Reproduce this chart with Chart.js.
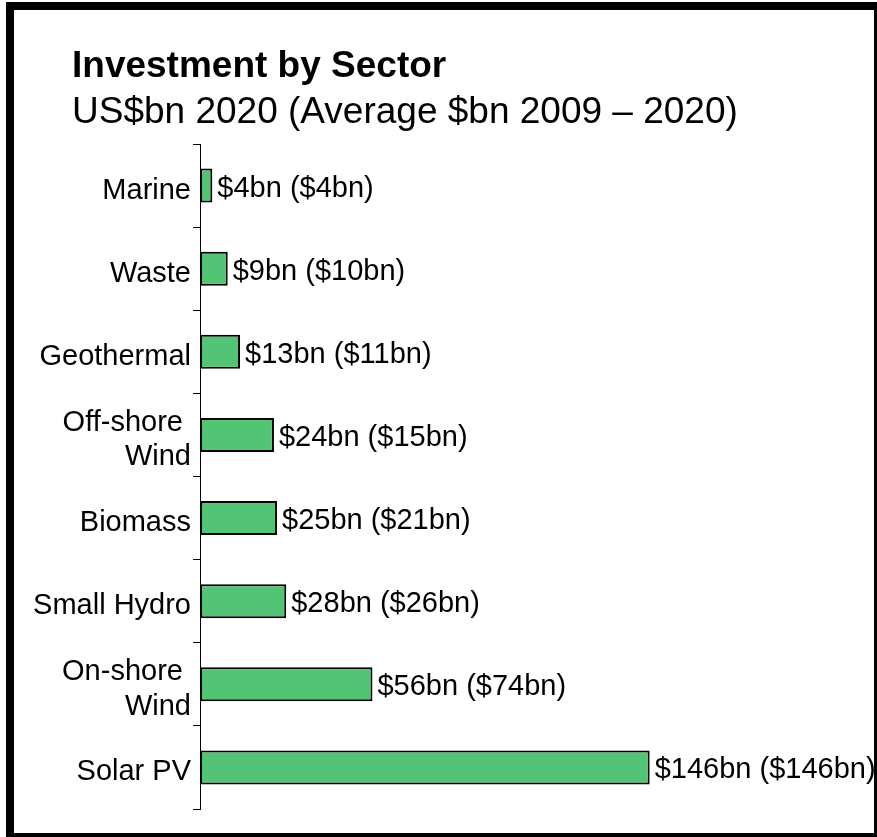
<!DOCTYPE html>
<html>
<head>
<meta charset="utf-8">
<script src="https://cdn.jsdelivr.net/npm/chart.js@4"></script>
<style>
  body { margin: 0; background: #fff; }
</style>
</head>
<body>
<canvas id="sectorChart" width="877" height="837"></canvas>
<script>
const sectors = ['Marine', 'Waste', 'Geothermal', ['Off-shore ', 'Wind'], 'Biomass', 'Small Hydro', ['On-shore ', 'Wind'], 'Solar PV'];
const invest2020 = [4, 9, 13, 24, 25, 28, 56, 146];
const investAvg = [4, 10, 11, 15, 21, 26, 74, 146];

const titleText = 'Investment by Sector';
const subtitleText = 'US$bn 2020 (Average $bn 2009 \u2013 2020)';
const fontFamily = 'Arial, "Liberation Sans", sans-serif';

// frame + titles
const framePlugin = {
    id: 'frame',
    beforeDraw(chart) {
        const ctx = chart.ctx;
        ctx.save();
        ctx.fillStyle = '#fff';
        ctx.fillRect(0, 0, chart.width, chart.height);
        ctx.fillStyle = '#000';
        ctx.fillRect(6, 2, 871, 8);
        ctx.fillRect(6, 2, 8, 835);
        ctx.fillRect(874, 2, 3, 835);
        ctx.fillRect(6, 833, 871, 4);
        ctx.textAlign = 'left';
        ctx.textBaseline = 'alphabetic';
        ctx.font = 'bold 37px ' + fontFamily;
        ctx.fillText(titleText, 72, 77);
        ctx.font = '37px ' + fontFamily;
        ctx.fillText(subtitleText, 72, 123);
        ctx.restore();
    }
};

// value labels next to bars
const valueLabels = {
    id: 'valueLabels',
    afterDatasetsDraw(chart) {
        const ctx = chart.ctx;
        const meta = chart.getDatasetMeta(0);
        ctx.save();
        ctx.fillStyle = '#000';
        ctx.font = '29px ' + fontFamily;
        ctx.textAlign = 'left';
        ctx.textBaseline = 'middle';
        meta.data.forEach((bar, i) => {
            ctx.fillText('$' + invest2020[i] + 'bn ($' + investAvg[i] + 'bn)', bar.x + 5, bar.y + 3);
        });
        ctx.restore();
    }
};

const sectorChart = new Chart(document.getElementById('sectorChart').getContext('2d'), {
    type: 'bar',
    data: {
        labels: sectors,
        datasets: [{
            data: invest2020,
            backgroundColor: '#53c376',
            borderColor: '#000',
            borderWidth: 2,
            borderSkipped: false,
            categoryPercentage: 1,
            barPercentage: 0.41
        }]
    },
    options: {
        indexAxis: 'y',
        responsive: false,
        animation: false,
        layout: {
            padding: { top: 144, bottom: 28, left: 0, right: 61 }
        },
        plugins: {
            legend: { display: false },
            tooltip: { enabled: false }
        },
        scales: {
            x: {
                display: false,
                min: 0,
                max: 200
            },
            y: {
                afterFit(scale) { scale.width = 200; },
                border: { display: true, color: '#000', width: 1 },
                grid: {
                    drawOnChartArea: false,
                    drawTicks: true,
                    tickLength: 7,
                    color: '#000',
                    offset: true
                },
                ticks: {
                    color: '#000',
                    padding: 2,
                    labelOffset: 5,
                    font: { family: fontFamily, size: 29 }
                }
            }
        }
    },
    plugins: [framePlugin, valueLabels]
});
</script>
</body>
</html>
